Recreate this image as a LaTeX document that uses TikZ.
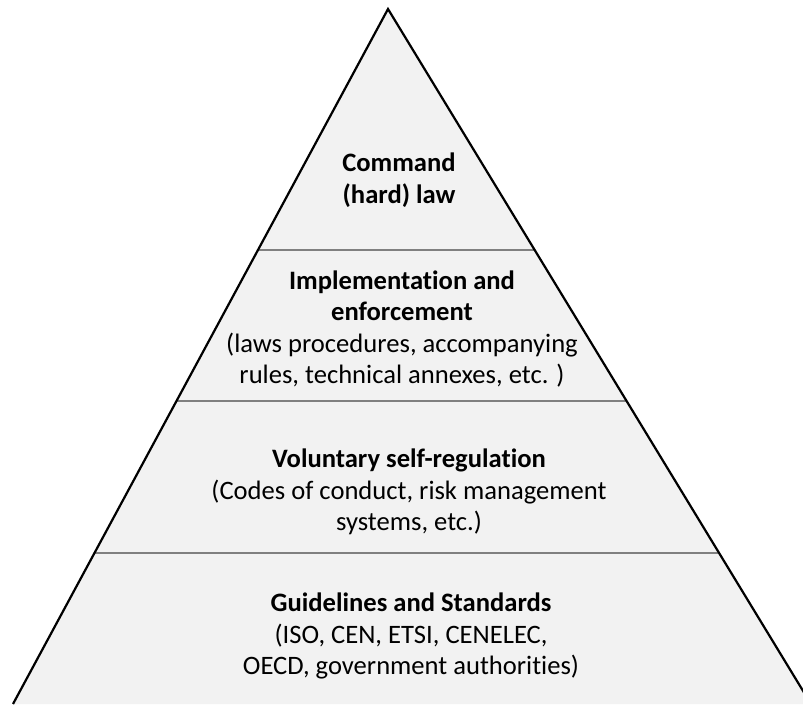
\documentclass[tikz,border=0pt]{standalone}
\usepackage{fontspec}
\setmainfont{Carlito}[Ligatures=NoCommon]
\usetikzlibrary{calc}

\begin{document}
\begin{tikzpicture}[x=1pt,y=-1pt,
    every node/.style={font=\fontsize{26.6}{31.5}\selectfont,align=center,inner sep=0pt},
    tierline/.style={draw=black!50,line width=1.7pt}]
  \useasboundingbox (0,0) rectangle (803,704);
  \clip (0,0) rectangle (803,704);
  \coordinate (top) at (388,9);
  \coordinate (bl) at (13,704);
  \coordinate (br) at (811,704);
  \fill[black!5] (top) -- (bl) -- (br) -- cycle;
  % borders between the tiers
  \foreach \t in {0.3468,0.564,0.7827}
    \draw[tierline] ($(top)!\t!(bl)$) -- ($(top)!\t!(br)$);
  \draw[line width=2.2pt] (bl) -- (top) -- (br);
  % tier labels, top to bottom
  \node (cmd) at (399,180) {\textbf{Command}\\\textbf{(hard) law}};
  \node (impl) at (402,329) {\textbf{Implementation and}\\\textbf{enforcement}\\(laws procedures, accompanying\\rules, technical annexes, etc. )};
  \node (vol) at (409,492) {\textbf{Voluntary self-regulation}\\(Codes of conduct, risk management\\systems, etc.)};
  \node (guide) at (411,636) {\textbf{Guidelines and Standards}\\(ISO, CEN, ETSI, CENELEC,\\OECD, government authorities)};
\end{tikzpicture}
\end{document}
